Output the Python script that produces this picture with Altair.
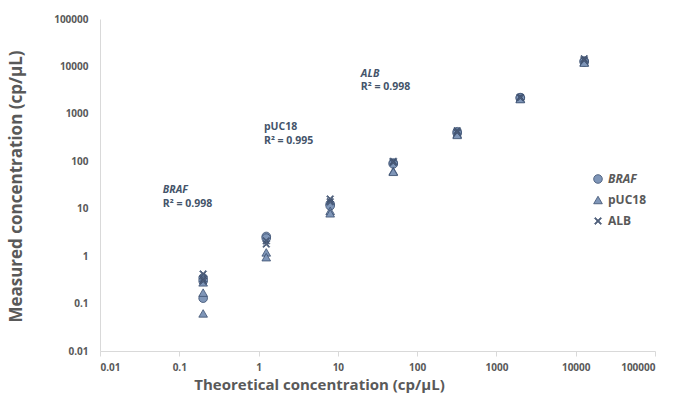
import math
import altair as alt
import pandas as pd

# Series data (theoretical vs measured, cp/µL)
braf_x = [0.2, 0.2, 0.2, 1.25, 1.25, 8, 8, 50, 50, 320, 320, 2000, 2000, 12800, 12800]
braf_y = [0.35, 0.3, 0.13, 2.6, 2.4, 12.5, 11.5, 92, 88, 420, 390, 2200, 2150, 13000, 12500]
puc_x = [0.2, 0.2, 0.2, 1.25, 1.25, 8, 8, 50, 50, 320, 320, 2000, 2000, 12800, 12800]
puc_y = [0.28, 0.17, 0.062, 1.2, 0.95, 9.0, 8.0, 62, 60, 380, 360, 2100, 2050, 12500, 12000]
alb_x = [0.2, 0.2, 0.2, 1.25, 1.25, 8, 8, 50, 50, 320, 320, 2000, 2000, 12800, 12800]
alb_y = [0.42, 0.33, 0.3, 2.1, 1.8, 16, 14, 100, 95, 440, 410, 2250, 2200, 14500, 13500]

series_names = ["BRAF", "pUC18", "ALB"]
ticks = [0.01, 0.1, 1, 10, 100, 1000, 10000, 100000]

ann_names = ["BRAF", "pUC18", "ALB"]
ann_styles = ["italic", "normal", "italic"]
ann_r2 = ["R\u00b2 = 0.998", "R\u00b2 = 0.995", "R\u00b2 = 0.998"]
ann_x = [0.062, 1.17, 19.5]
ann_y_name = [25, 532, 6980]
ann_y_r2 = [12.6, 269, 3715]

rows = []
for name, xs_, ys_ in [("BRAF", braf_x, braf_y), ("pUC18", puc_x, puc_y), ("ALB", alb_x, alb_y)]:
    for a, b in zip(xs_, ys_):
        rows.append({"series": name, "x": a, "y": b})
df = pd.DataFrame(rows)

ann_it = pd.DataFrame({"x": [v for v, s in zip(ann_x, ann_styles) if s == "italic"],
                       "y": [v for v, s in zip(ann_y_name, ann_styles) if s == "italic"],
                       "t": [v for v, s in zip(ann_names, ann_styles) if s == "italic"]})
ann_nm = pd.DataFrame({"x": [v for v, s in zip(ann_x, ann_styles) if s == "normal"] + ann_x,
                       "y": [v for v, s in zip(ann_y_name, ann_styles) if s == "normal"] + ann_y_r2,
                       "t": [v for v, s in zip(ann_names, ann_styles) if s == "normal"] + ann_r2})

FONT = "Open Sans"
GRAY = "#595959"
label_expr = "datum.value >= 1 ? format(datum.value, 'd') : format(datum.value, '.2~f')"

xs = alt.Scale(type="log", domain=[0.01, 100000], nice=False)
ys = alt.Scale(type="log", domain=[0.01, 100000], nice=False)

# thin "x" symbol as a filled polygon
a = 0.13
plus = [(-a, -1), (a, -1), (a, -a), (1, -a), (1, a), (a, a), (a, 1), (-a, 1),
        (-a, a), (-1, a), (-1, -a), (-a, -a)]
r = 1 / math.sqrt(2)
pts = [((x - y) * r, (x + y) * r) for x, y in plus]
xpath = "M" + "L".join(f"{p:.3f},{q:.3f}" for p, q in pts) + "Z"

legend_kw = dict(
    title=None, orient="none", legendX=492, legendY=154,
    labelFont=FONT, labelFontSize=12, labelFontWeight="bold",
    labelColor=GRAY, symbolSize=75,
    symbolStrokeColor="#3b4f70", symbolStrokeWidth=0.8,
    rowPadding=9, padding=0,
    labelFontStyle=alt.ExprRef("datum.label == 'BRAF' ? 'italic' : 'normal'"),
)

points = alt.Chart(df).mark_point(
    filled=True, opacity=1, stroke="#3b4f70", strokeWidth=0.8
).encode(
    x=alt.X("x:Q", scale=xs, axis=alt.Axis(
        values=ticks, labelExpr=label_expr, title="Theoretical concentration (cp/\u00b5L)",
        grid=False, domainColor="#d9d9d9", tickColor="#d9d9d9", tickSize=5,
        labelFont=FONT, labelFontSize=10, labelFontWeight="bold", labelColor=GRAY,
        labelPadding=6, titleFont=FONT, titleFontSize=15, titleFontWeight="bold",
        titleColor=GRAY, titleX=219, titleY=26, titleAnchor="middle")),
    y=alt.Y("y:Q", scale=ys, axis=alt.Axis(
        values=ticks, labelExpr=label_expr, title="Measured concentration (cp/\u00b5L)",
        grid=False, domainColor="#d9d9d9", ticks=False,
        labelFont=FONT, labelFontSize=10, labelFontWeight="bold", labelColor=GRAY,
        labelPadding=12, titleFont=FONT, titleFontSize=17, titleFontWeight="bold",
        titleColor=GRAY, titleX=-75, titleY=167)),
    shape=alt.Shape("series:N", sort=series_names,
                    scale=alt.Scale(domain=series_names, range=["circle", "triangle-up", xpath]),
                    legend=alt.Legend(**legend_kw)),
    color=alt.Color("series:N", sort=series_names,
                    scale=alt.Scale(domain=series_names, range=["#7f96b8", "#7f96b8", "#55627a"]),
                    legend=alt.Legend(**legend_kw)),
    size=alt.value(75),
    order=alt.Order("ord:Q"),
).transform_calculate(ord="datum.series == 'BRAF' ? 0 : datum.series == 'pUC18' ? 1 : 2")

texts_it = alt.Chart(ann_it).mark_text(
    align="left", baseline="middle", font=FONT, fontSize=10.5, fontWeight="bold",
    fontStyle="italic", color="#44546a"
).encode(x=alt.X("x:Q", scale=xs), y=alt.Y("y:Q", scale=ys), text="t:N")
texts_n = alt.Chart(ann_nm).mark_text(
    align="left", baseline="middle", font=FONT, fontSize=10.5, fontWeight="bold",
    color="#44546a"
).encode(x=alt.X("x:Q", scale=xs), y=alt.Y("y:Q", scale=ys), text="t:N")

chart = alt.layer(points, texts_it, texts_n).properties(
    width=555, height=332,
    padding={"left": 100, "top": 19, "right": 29, "bottom": 45},
    autosize=alt.AutoSizeParams(type="none"),
    background="white",
).configure_view(stroke=None)

chart.save("out.html", embed_options={"renderer": "svg", "actions": False})
